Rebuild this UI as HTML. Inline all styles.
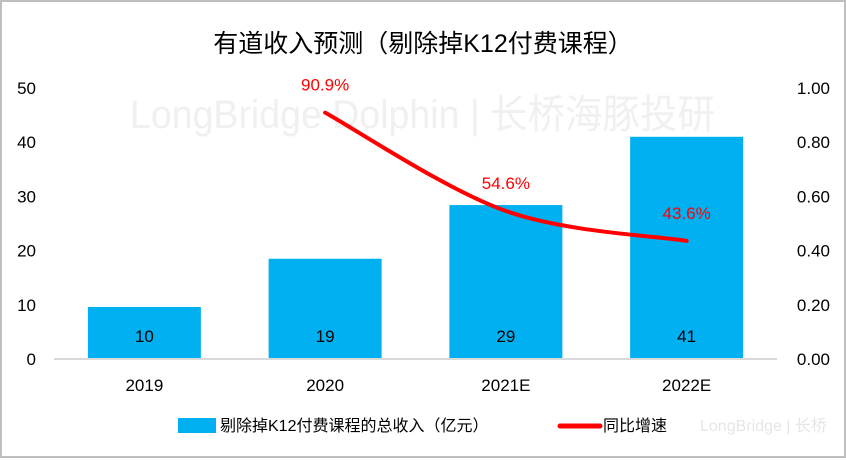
<!DOCTYPE html>
<html><head><meta charset="utf-8"><style>
body{margin:0;background:#fff}
svg text{font-family:"Liberation Sans","Noto Sans CJK SC",sans-serif}
</style></head><body>
<svg id="c" width="846" height="458" xmlns="http://www.w3.org/2000/svg">
<rect x="1" y="1" width="844" height="456" fill="#fff" stroke="#bfbfbf" stroke-width="2"/>
<text x="423" y="52" text-anchor="middle" font-size="25" fill="#000">有道收入预测（剔除掉K12付费课程）</text>
<text x="130" y="128" font-size="40" fill="#f0f0f0" textLength="585" lengthAdjust="spacingAndGlyphs">LongBridge Dolphin | 长桥海豚投研</text>
<g id="plot"></g>
<g>
<rect x="178" y="418" width="38" height="15" fill="#00b0f0"/>
<text x="220" y="431" font-size="16">剔除掉K12付费课程的总收入（亿元）</text>
<line x1="560" y1="426" x2="600" y2="426" stroke="#f00" stroke-width="5" stroke-linecap="round"/>
<text x="603" y="431" font-size="16">同比增速</text>
<text x="700" y="431" font-size="16" fill="#e6e6e6">LongBridge | 长桥</text>
</g>
</svg>
<script>
const categories=["2019","2020","2021E","2022E"];
const revenue=[9.6,18.5,28.4,41];
const revenueLabels=["10","19","29","41"];
const growth=[null,0.909,0.546,0.436];
const growthLabels=["","90.9%","54.6%","43.6%"];
const leftTicks=[0,10,20,30,40,50];
const rightTicks=["0.00","0.20","0.40","0.60","0.80","1.00"];
const NS="http://www.w3.org/2000/svg";
const g=document.getElementById('plot');
const y0=359,yTop=88,x0=54,x1=777;
const yL=v=>y0-v/50*(y0-yTop);
const yR=v=>y0-v/1*(y0-yTop);
const band=(x1-x0)/categories.length;
const xC=i=>x0+band*(i+0.5);
function mk(t,a,txt){const e=document.createElementNS(NS,t);for(const k in a)e.setAttribute(k,a[k]);if(txt!==undefined)e.textContent=txt;g.appendChild(e);return e;}
leftTicks.forEach((v,i)=>{const e=mk('text',{x:36,y:yL(v)+6,'text-anchor':'end','font-size':17},String(v));


const r=mk('text',{x:830,y:yL(v)+6,'text-anchor':'end','font-size':17},rightTicks[i]);

});
const bw=113;
categories.forEach((c,i)=>{const b=mk('rect',{x:xC(i)-bw/2,y:yL(revenue[i]),width:bw,height:y0-yL(revenue[i]),fill:'#00b0f0'});


const l=mk('text',{x:xC(i),y:342,'text-anchor':'middle','font-size':17},revenueLabels[i]);


const t=mk('text',{x:xC(i),y:391,'text-anchor':'middle','font-size':17},c);

});
const ax=mk('line',{x1:x0,y1:y0,x2:x1,y2:y0,stroke:'#d9d9d9','stroke-width':2});


const pts=[];growth.forEach((v,i)=>{if(v!==null)pts.push([xC(i),yR(v),i]);});
let d='M'+pts[0][0]+','+pts[0][1];
for(let k=0;k<pts.length-1;k++){const p0=pts[Math.max(0,k-1)],p1=pts[k],p2=pts[k+1],p3=pts[Math.min(pts.length-1,k+2)];
const c1=[p1[0]+(p2[0]-p0[0])/6,p1[1]+(p2[1]-p0[1])/6],c2=[p2[0]-(p3[0]-p1[0])/6,p2[1]-(p3[1]-p1[1])/6];
d+=' C'+c1+' '+c2+' '+p2[0]+','+p2[1];}
const ln=mk('path',{d:d,fill:'none',stroke:'#f00','stroke-width':4,'stroke-linecap':'round'});


pts.forEach(p=>{const t=mk('text',{x:p[0],y:p[1]-22,'text-anchor':'middle','font-size':17,fill:'#f00'},growthLabels[p[2]]);

});
</script>
</body></html>
